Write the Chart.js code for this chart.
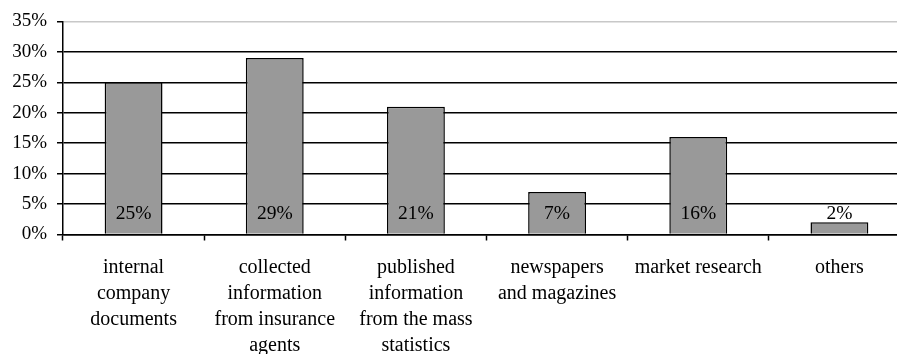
<!DOCTYPE html>
<html>
<head>
<meta charset="utf-8">
<script src="https://cdn.jsdelivr.net/npm/chart.js@4/dist/chart.umd.min.js"></script>
<style>
  html, body { margin: 0; padding: 0; background: #fff; overflow: hidden; }
  #wrap { width: 897px; height: 354px; overflow: hidden; position: relative; }
  canvas { display: block; }
</style>
</head>
<body>
<div id="wrap"><canvas id="c" width="910" height="354"></canvas></div>
<script>
// Sources of information, share of respondents (%)
const categories = [
  ["internal", "company", "documents"],
  ["collected", "information", "from insurance", "agents"],
  ["published", "information", "from the mass", "statistics"],
  ["newspapers", "and magazines"],
  ["market research"],
  ["others"]
];
const shares = [25, 29, 21, 7, 16, 2];
const yTicks = [0, 5, 10, 15, 20, 25, 30, 35];

const FONT = "'Liberation Serif', 'Times New Roman', serif";

// Value labels written near the foot of each bar
const valueLabels = {
  id: 'valueLabels',
  afterDatasetsDraw(chart) {
    const ctx = chart.ctx;
    const y0 = chart.scales.y.getPixelForValue(0);
    const meta = chart.getDatasetMeta(0);
    ctx.save();
    ctx.font = "19.5px " + FONT;
    ctx.fillStyle = '#000';
    ctx.textAlign = 'center';
    ctx.textBaseline = 'middle';
    meta.data.forEach((bar, i) => {
      ctx.fillText(shares[i] + '%', bar.x, y0 - 20.5);
    });
    ctx.restore();
  }
};

new Chart(document.getElementById('c'), {
  type: 'bar',
  data: {
    labels: categories,
    datasets: [{
      data: shares,
      backgroundColor: '#999999',
      borderColor: '#000000',
      borderWidth: 1.5,
      categoryPercentage: 1,
      barPercentage: 0.41
    }]
  },
  options: {
    responsive: false,
    animation: false,
    devicePixelRatio: 1,
    layout: { padding: { top: 20, left: 0, right: 0, bottom: 0 } },
    plugins: { legend: { display: false }, tooltip: { enabled: false } },
    scales: {
      x: {
        grid: {
          offset: true,
          drawOnChartArea: false,
          drawTicks: true,
          tickLength: 6,
          tickColor: '#000',
          tickWidth: 1.5
        },
        border: { display: true, color: '#000', width: 1.5 },
        ticks: {
          color: '#000',
          padding: 14,
          maxRotation: 0,
          autoSkip: false,
          font: { family: FONT, size: 20, lineHeight: 1.3 }
        },
        afterFit(scale) { scale.height = 119.5; }
      },
      y: {
        min: 0,
        max: 35,
        afterBuildTicks(scale) { scale.ticks = yTicks.map(v => ({ value: v })); },
        grid: {
          color: (c) => (c.tick && c.tick.value === 35) ? '#c8c8c8' : '#000',
          lineWidth: 1.5,
          drawTicks: true,
          tickLength: 6,
          tickColor: '#000',
          tickWidth: 1.5
        },
        border: { display: true, color: '#000', width: 1.5 },
        ticks: {
          color: '#000',
          padding: 10,
          callback: (v) => v + '%',
          font: { family: FONT, size: 19 }
        },
        afterFit(scale) { scale.width = 63; }
      }
    }
  },
  plugins: [valueLabels]
});
</script>
</body>
</html>
